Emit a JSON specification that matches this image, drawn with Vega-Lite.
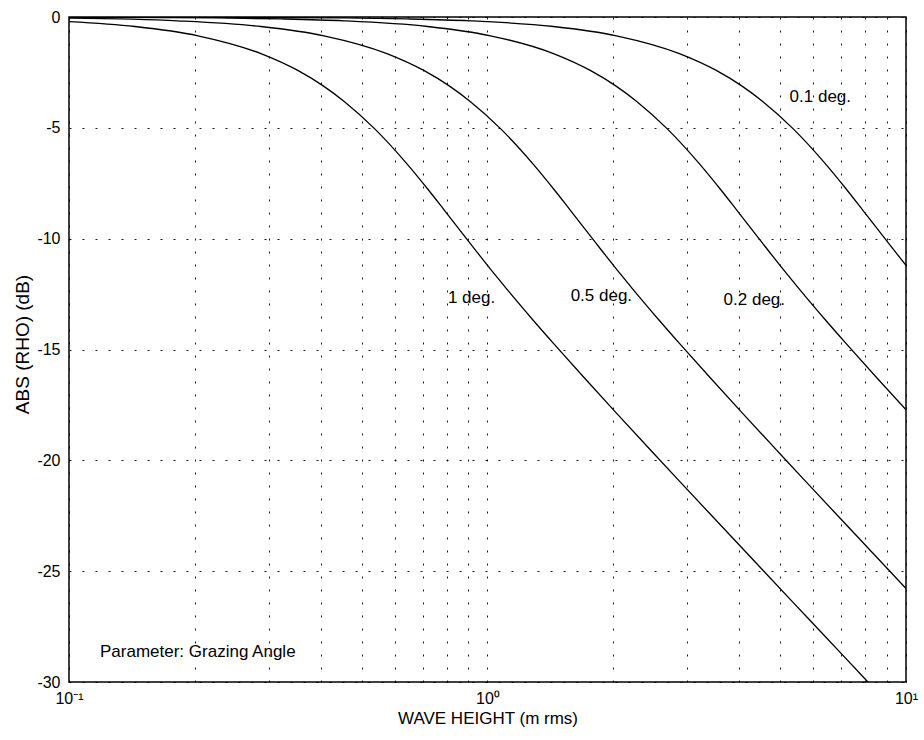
{
  "$schema": "https://vega.github.io/schema/vega-lite/v6.json",
  "width": 837,
  "height": 665,
  "autosize": {"type": "none"},
  "padding": {"left": 69, "top": 17, "right": 18, "bottom": 58},
  "background": "white",
  "config": {
    "font": "Liberation Sans",
    "view": {"stroke": "black", "strokeWidth": 1.5},
    "axis": {
      "gridColor": "black",
      "gridDash": [2, 11],
      "gridWidth": 1,
      "gridOpacity": 0.9,
      "domain": false,
      "ticks": false,
      "labelColor": "black",
      "labelFontSize": 16,
      "labelFont": "Liberation Sans",
      "titleFont": "Liberation Sans",
      "titleFontSize": 17,
      "titleFontWeight": "normal",
      "titleColor": "black",
      "labelOverlap": false,
      "labelFlush": false
    }
  },
  "datasets": {
    "curves": [
      {"angle": "1 deg", "h": 0.1, "db": -0.209},
      {"angle": "1 deg", "h": 0.14374, "db": -0.429},
      {"angle": "1 deg", "h": 0.20328, "db": -0.847},
      {"angle": "1 deg", "h": 0.28748, "db": -1.651},
      {"angle": "1 deg", "h": 0.35209, "db": -2.411},
      {"angle": "1 deg", "h": 0.40656, "db": -3.13},
      {"angle": "1 deg", "h": 0.45455, "db": -3.808},
      {"angle": "1 deg", "h": 0.53783, "db": -5.047},
      {"angle": "1 deg", "h": 0.64282, "db": -6.637},
      {"angle": "1 deg", "h": 0.7187, "db": -7.748},
      {"angle": "1 deg", "h": 0.7873, "db": -8.697},
      {"angle": "1 deg", "h": 0.90909, "db": -10.214},
      {"angle": "1 deg", "h": 1.0164, "db": -11.371},
      {"angle": "1 deg", "h": 1.1134, "db": -12.288},
      {"angle": "1 deg", "h": 1.28565, "db": -13.681},
      {"angle": "1 deg", "h": 1.4374, "db": -14.725},
      {"angle": "1 deg", "h": 1.70075, "db": -16.265},
      {"angle": "1 deg", "h": 2.03279, "db": -17.868},
      {"angle": "1 deg", "h": 2.48965, "db": -19.667},
      {"angle": "1 deg", "h": 2.8748, "db": -20.937},
      {"angle": "1 deg", "h": 3.52089, "db": -22.716},
      {"angle": "1 deg", "h": 4.54545, "db": -24.95},
      {"angle": "1 deg", "h": 5.37825, "db": -26.417},
      {"angle": "1 deg", "h": 6.42824, "db": -27.97},
      {"angle": "1 deg", "h": 7.87296, "db": -29.74},
      {"angle": "1 deg", "h": 9.09091, "db": -30.99},
      {"angle": "0.5 deg", "h": 0.1, "db": -0.053},
      {"angle": "0.5 deg", "h": 0.18182, "db": -0.173},
      {"angle": "0.5 deg", "h": 0.28748, "db": -0.429},
      {"angle": "0.5 deg", "h": 0.40656, "db": -0.847},
      {"angle": "0.5 deg", "h": 0.57496, "db": -1.651},
      {"angle": "0.5 deg", "h": 0.70418, "db": -2.411},
      {"angle": "0.5 deg", "h": 0.81312, "db": -3.13},
      {"angle": "0.5 deg", "h": 0.90909, "db": -3.808},
      {"angle": "0.5 deg", "h": 1.07565, "db": -5.047},
      {"angle": "0.5 deg", "h": 1.28565, "db": -6.637},
      {"angle": "0.5 deg", "h": 1.4374, "db": -7.748},
      {"angle": "0.5 deg", "h": 1.57459, "db": -8.697},
      {"angle": "0.5 deg", "h": 1.81818, "db": -10.214},
      {"angle": "0.5 deg", "h": 2.03279, "db": -11.371},
      {"angle": "0.5 deg", "h": 2.22681, "db": -12.288},
      {"angle": "0.5 deg", "h": 2.5713, "db": -13.681},
      {"angle": "0.5 deg", "h": 2.8748, "db": -14.725},
      {"angle": "0.5 deg", "h": 3.40151, "db": -16.265},
      {"angle": "0.5 deg", "h": 4.06558, "db": -17.868},
      {"angle": "0.5 deg", "h": 4.9793, "db": -19.667},
      {"angle": "0.5 deg", "h": 5.7496, "db": -20.937},
      {"angle": "0.5 deg", "h": 7.04179, "db": -22.716},
      {"angle": "0.5 deg", "h": 9.09091, "db": -24.95},
      {"angle": "0.5 deg", "h": 10, "db": -25.78},
      {"angle": "0.2 deg", "h": 0.1, "db": -0.008},
      {"angle": "0.2 deg", "h": 0.22727, "db": -0.0435},
      {"angle": "0.2 deg", "h": 0.32141, "db": -0.087},
      {"angle": "0.2 deg", "h": 0.45455, "db": -0.173},
      {"angle": "0.2 deg", "h": 0.7187, "db": -0.429},
      {"angle": "0.2 deg", "h": 1.0164, "db": -0.847},
      {"angle": "0.2 deg", "h": 1.4374, "db": -1.651},
      {"angle": "0.2 deg", "h": 1.76045, "db": -2.411},
      {"angle": "0.2 deg", "h": 2.03279, "db": -3.13},
      {"angle": "0.2 deg", "h": 2.27273, "db": -3.808},
      {"angle": "0.2 deg", "h": 2.68913, "db": -5.047},
      {"angle": "0.2 deg", "h": 3.21412, "db": -6.637},
      {"angle": "0.2 deg", "h": 3.5935, "db": -7.748},
      {"angle": "0.2 deg", "h": 3.93648, "db": -8.697},
      {"angle": "0.2 deg", "h": 4.54545, "db": -10.214},
      {"angle": "0.2 deg", "h": 5.08197, "db": -11.371},
      {"angle": "0.2 deg", "h": 5.56702, "db": -12.288},
      {"angle": "0.2 deg", "h": 6.42824, "db": -13.681},
      {"angle": "0.2 deg", "h": 7.187, "db": -14.725},
      {"angle": "0.2 deg", "h": 8.50377, "db": -16.265},
      {"angle": "0.2 deg", "h": 10, "db": -17.722},
      {"angle": "0.1 deg", "h": 0.1, "db": -0.002},
      {"angle": "0.1 deg", "h": 0.45455, "db": -0.0435},
      {"angle": "0.1 deg", "h": 0.64282, "db": -0.087},
      {"angle": "0.1 deg", "h": 0.90909, "db": -0.173},
      {"angle": "0.1 deg", "h": 1.4374, "db": -0.429},
      {"angle": "0.1 deg", "h": 2.03279, "db": -0.847},
      {"angle": "0.1 deg", "h": 2.8748, "db": -1.651},
      {"angle": "0.1 deg", "h": 3.52089, "db": -2.411},
      {"angle": "0.1 deg", "h": 4.06558, "db": -3.13},
      {"angle": "0.1 deg", "h": 4.54545, "db": -3.808},
      {"angle": "0.1 deg", "h": 5.37825, "db": -5.047},
      {"angle": "0.1 deg", "h": 6.42824, "db": -6.637},
      {"angle": "0.1 deg", "h": 7.187, "db": -7.748},
      {"angle": "0.1 deg", "h": 7.87296, "db": -8.697},
      {"angle": "0.1 deg", "h": 9.09091, "db": -10.214},
      {"angle": "0.1 deg", "h": 10, "db": -11.205}
    ],
    "labels": [
      {"h": 0.916, "db": -12.67, "text": "1 deg."},
      {"h": 1.871, "db": -12.58, "text": "0.5 deg."},
      {"h": 4.34, "db": -12.76, "text": "0.2 deg."},
      {"h": 6.24, "db": -3.61, "text": "0.1 deg."}
    ],
    "note": [
      {"h": 0.1186, "db": -28.64, "text": "Parameter: Grazing Angle"}
    ]
  },
  "layer": [
    {
      "data": {"name": "curves"},
      "mark": {"type": "line", "color": "black", "strokeWidth": 1.3, "clip": true, "interpolate": "monotone"},
      "encoding": {
        "x": {
          "field": "h",
          "type": "quantitative",
          "scale": {"type": "log", "domain": [0.1, 10], "nice": false},
          "axis": {
            "title": "WAVE HEIGHT (m rms)",
            "titleY": 28,
            "titleBaseline": "top",
            "labelPadding": 8,
            "values": [0.1, 0.2, 0.3, 0.4, 0.5, 0.6, 0.7, 0.8, 0.9, 1, 2, 3, 4, 5, 6, 7, 8, 9, 10],
            "labelExpr": "datum.value == 0.1 ? '10⁻¹' : datum.value == 1 ? '10⁰' : datum.value == 10 ? '10¹' : ''"
          }
        },
        "y": {
          "field": "db",
          "type": "quantitative",
          "scale": {"domain": [-30, 0], "nice": false, "zero": false},
          "axis": {
            "title": "ABS (RHO) (dB)",
            "titleFontSize": 19,
            "titleX": -47,
            "titleY": 327,
            "titleBaseline": "middle",
            "titleAngle": -90,
            "titleAlign": "center",
            "labelPadding": 9,
            "values": [0, -5, -10, -15, -20, -25, -30],
            "labelExpr": "datum.value == 0 ? '0' : '-' + abs(datum.value)"
          }
        },
        "detail": {"field": "angle", "type": "nominal"}
      }
    },
    {
      "data": {"name": "labels"},
      "mark": {"type": "text", "fontSize": 17, "font": "Liberation Sans", "color": "black", "align": "center", "baseline": "middle"},
      "encoding": {
        "x": {"field": "h", "type": "quantitative"},
        "y": {"field": "db", "type": "quantitative"},
        "text": {"field": "text", "type": "nominal"}
      }
    },
    {
      "data": {"name": "note"},
      "mark": {"type": "text", "fontSize": 17, "font": "Liberation Sans", "color": "black", "align": "left", "baseline": "middle"},
      "encoding": {
        "x": {"field": "h", "type": "quantitative"},
        "y": {"field": "db", "type": "quantitative"},
        "text": {"field": "text", "type": "nominal"}
      }
    }
  ]
}
